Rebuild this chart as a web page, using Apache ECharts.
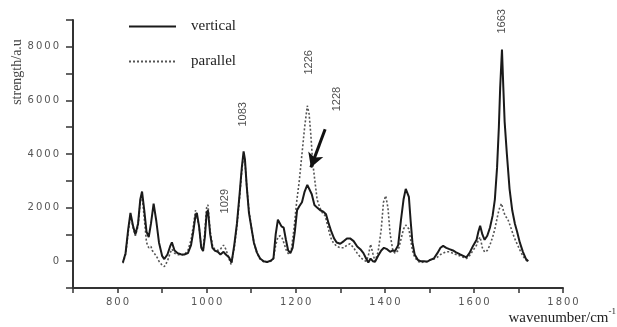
<!DOCTYPE html>
<html>
<head>
<meta charset="utf-8">
<script src="https://cdn.jsdelivr.net/npm/echarts@6/dist/echarts.min.js"></script>
<style>
  html, body { margin: 0; padding: 0; background: #fff; }
  #chart { width: 617px; height: 327px; }
</style>
</head>
<body>
<div id="chart"></div>
<script>
// wavenumber (cm-1), strength (a.u)
const vertical = [
  [812,-50],[818,300],[824,1200],[829,1800],[835,1300],[840,1000],[846,1400],[851,2300],[855,2600],[860,1900],
  [865,1100],[870,900],[875,1400],[881,2150],[887,1500],[893,700],[900,200],[905,80],[912,250],[918,550],
  [922,700],[928,400],[935,300],[942,260],[950,250],[958,300],[965,600],[970,1100],[975,1700],[978,1800],
  [983,1300],[988,500],[992,380],[996,900],[1000,1800],[1003,1900],[1008,1000],[1013,500],[1018,400],[1025,350],
  [1031,250],[1038,350],[1043,250],[1050,150],[1056,-50],[1062,600],[1068,1400],[1074,2500],[1079,3500],[1083,4100],
  [1086,3800],[1090,2800],[1095,1800],[1100,1300],[1106,700],[1113,320],[1120,100],[1128,0],[1136,-30],[1144,20],
  [1150,100],[1155,1000],[1160,1550],[1163,1500],[1168,1300],[1173,1250],[1178,800],[1183,400],[1188,300],[1193,500],
  [1198,1100],[1203,1900],[1208,2050],[1214,2200],[1220,2600],[1226,2850],[1230,2850],[1236,2500],[1242,2100],[1248,2000],
  [1255,1900],[1262,1850],[1268,1750],[1274,1400],[1280,1100],[1286,850],[1292,700],[1300,650],[1308,750],[1315,850],
  [1322,850],[1330,750],[1338,550],[1345,450],[1352,300],[1358,100],[1363,-50],[1368,100],[1373,0],[1378,-20],
  [1385,200],[1392,400],[1398,500],[1405,450],[1412,350],[1418,400],[1423,380],[1430,600],[1436,1500],[1442,2300],
  [1447,2700],[1450,2750],[1454,2400],[1458,1500],[1462,700],[1467,250],[1474,50],[1480,0],[1488,0],[1495,-20],
  [1502,50],[1510,100],[1518,300],[1525,500],[1531,570],[1538,500],[1545,450],[1553,400],[1560,330],[1568,260],
  [1576,200],[1583,140],[1590,300],[1598,570],[1606,800],[1610,1100],[1614,1320],[1619,1000],[1624,800],[1630,950],
  [1636,1250],[1642,1700],[1647,2300],[1652,3500],[1656,5000],[1659,6500],[1663,7900],[1666,6500],[1669,5200],[1674,4000],
  [1680,2700],[1686,1900],[1692,1400],[1697,1100],[1703,700],[1710,350],[1717,80],[1722,0]
];

const parallel = [
  [812,-80],[818,250],[824,1100],[829,1700],[835,1250],[840,950],[846,1300],[851,2200],[855,2500],[860,1600],
  [865,700],[870,500],[875,550],[878,400],[882,300],[887,200],[893,0],[900,-150],[905,-200],[912,0],
  [918,300],[922,450],[928,300],[935,250],[942,220],[950,250],[958,400],[965,800],[970,1300],[975,1900],
  [978,1950],[983,1300],[988,500],[992,400],[996,1100],[1000,2000],[1003,2100],[1008,1100],[1013,600],[1018,450],
  [1025,400],[1031,450],[1038,600],[1043,450],[1050,100],[1055,-120],[1062,500],[1068,1300],[1074,2400],[1079,3400],
  [1083,3950],[1086,3700],[1090,2800],[1095,1900],[1100,1300],[1106,700],[1113,300],[1120,80],[1128,-20],[1136,-40],
  [1144,0],[1150,100],[1155,600],[1160,900],[1165,950],[1170,850],[1175,600],[1180,350],[1185,250],[1190,400],
  [1196,1200],[1202,2200],[1208,3000],[1214,4000],[1220,5000],[1226,5800],[1230,5500],[1234,4700],[1238,3700],[1243,3000],
  [1248,2300],[1254,2000],[1260,1800],[1266,1700],[1272,1300],[1278,900],[1284,700],[1292,550],[1300,500],[1308,500],
  [1315,600],[1322,650],[1330,500],[1338,300],[1345,150],[1352,50],[1358,0],[1363,200],[1368,630],[1373,300],
  [1378,0],[1385,350],[1392,1200],[1397,2200],[1402,2440],[1407,2000],[1412,1000],[1418,400],[1423,300],[1430,400],
  [1436,800],[1442,1200],[1447,1350],[1450,1380],[1454,1200],[1458,800],[1462,400],[1467,150],[1474,0],[1480,-50],
  [1488,-30],[1495,0],[1502,50],[1510,80],[1518,150],[1525,250],[1531,300],[1538,350],[1545,350],[1553,300],
  [1560,250],[1568,200],[1576,150],[1583,100],[1590,200],[1598,400],[1606,600],[1610,800],[1614,900],[1619,500],
  [1624,340],[1630,400],[1636,600],[1642,900],[1647,1200],[1652,1600],[1656,1900],[1659,2050],[1662,2150],[1666,1900],
  [1670,1700],[1676,1570],[1682,1300],[1688,1000],[1694,750],[1699,570],[1705,350],[1710,200],[1715,75],[1720,0]
];

// peak annotations (text, position in data units)
const peakText = ['1663', '1226', '1228', '1083', '1029'];
const peakX    = [1664, 1230, 1293, 1082, 1042];
const peakY    = [8950, 7420, 6050, 5480, 2240];

// arrow pointing at the vertical 1228 band
const arrowFrom = [1266, 4920];
const arrowTo   = [1234, 3500];

const axisColor = '#333';
const spaced = (v) => String(v).split('').join('\u2009');

var chartDom = document.getElementById('chart');
var myChart = echarts.init(chartDom);
var option;

option = {
  animation: false,
  backgroundColor: '#fff',
  grid: { left: 73, right: 54, top: 20, bottom: 39 },
  legend: {
    data: ['vertical', 'parallel'],
    orient: 'vertical',
    left: 123,
    top: 14,
    itemWidth: 47,
    itemHeight: 14,
    itemGap: 20,
    itemStyle: { opacity: 0 },
    textStyle: {
      fontFamily: 'Liberation Serif',
      fontSize: 15,
      color: '#222',
      padding: [0, 0, 0, 10]
    }
  },
  xAxis: {
    type: 'value',
    min: 700,
    max: 1800,
    interval: 100,
    splitLine: { show: false },
    axisLine: { onZero: false, lineStyle: { color: axisColor, width: 2 } },
    axisTick: { length: 5, lineStyle: { color: axisColor, width: 1.5 } },
    axisLabel: {
      margin: 9,
      color: '#555',
      fontSize: 10,
      fontFamily: 'DejaVu Sans',
      formatter: (v) => (v % 200 === 0 ? spaced(v) : '')
    }
  },
  yAxis: {
    type: 'value',
    min: -1000,
    max: 9000,
    interval: 1000,
    splitLine: { show: false },
    axisLine: { show: true, lineStyle: { color: axisColor, width: 2 } },
    axisTick: { show: true, length: 7, lineStyle: { color: axisColor, width: 1.5 } },
    axisLabel: {
      margin: 14,
      color: '#555',
      fontSize: 10,
      fontFamily: 'DejaVu Sans',
      formatter: (v) => (v >= 0 && v % 2000 === 0 ? spaced(v) : '')
    }
  },
  graphic: [
    {
      type: 'text',
      x: 17,
      y: 72,
      rotation: Math.PI / 2,
      style: {
        text: 'strength/a.u',
        fontFamily: 'Liberation Serif',
        fontSize: 14,
        fill: '#444',
        align: 'center',
        verticalAlign: 'middle'
      }
    },
    {
      type: 'text',
      x: 616,
      y: 318,
      style: {
        text: '{a|wavenumber/cm}{b|-1}',
        align: 'right',
        verticalAlign: 'middle',
        rich: {
          a: { fontFamily: 'Liberation Serif', fontSize: 15, fill: '#222', color: '#222' },
          b: { fontFamily: 'Liberation Serif', fontSize: 9, fill: '#222', color: '#222', verticalAlign: 'top', padding: [0, 0, 12, 0] }
        }
      }
    }
  ],
  series: [
    {
      name: 'vertical',
      type: 'line',
      data: vertical,
      showSymbol: false,
      symbol: 'none',
      lineStyle: { color: '#1a1a1a', width: 2 },
      itemStyle: { color: '#1a1a1a' },
      z: 3,
      markLine: {
        silent: true,
        symbol: ['none', 'arrow'],
        symbolSize: [12, 14],
        label: { show: false },
        lineStyle: { color: '#111', width: 3, type: 'solid' },
        data: [[{ coord: arrowFrom }, { coord: arrowTo }]]
      }
    },
    {
      name: 'parallel',
      type: 'line',
      data: parallel,
      showSymbol: false,
      symbol: 'none',
      lineStyle: { color: '#555', width: 1.6, type: [2, 2] },
      itemStyle: { color: '#555' },
      z: 2
    },
    {
      name: 'peaks',
      type: 'scatter',
      symbolSize: 0,
      silent: true,
      data: peakText.map((t, i) => ({ value: [peakX[i], peakY[i]], name: t })),
      label: {
        show: true,
        position: 'inside',
        rotate: 90,
        formatter: (p) => p.name,
        fontFamily: 'Liberation Sans Narrow, Liberation Sans',
        fontSize: 11,
        color: '#222'
      }
    }
  ]
};

option && myChart.setOption(option);
</script>
</body>
</html>
